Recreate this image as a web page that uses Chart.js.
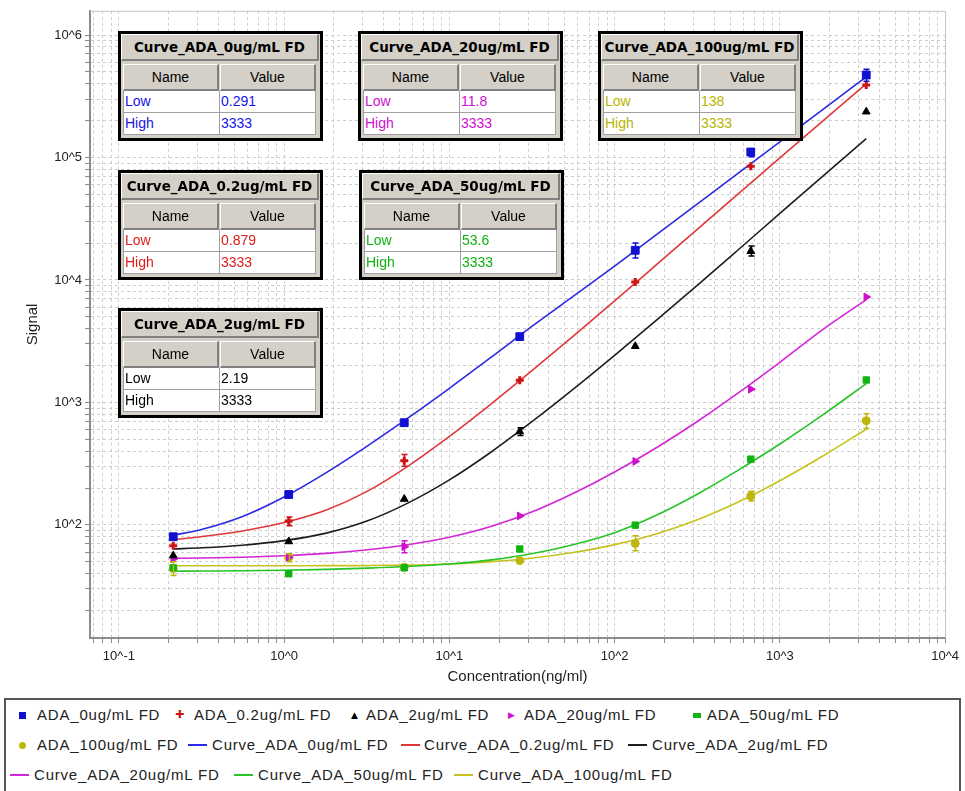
<!DOCTYPE html>
<html>
<head>
<meta charset="utf-8">
<script src="https://cdn.jsdelivr.net/npm/chart.js@4.4.1/dist/chart.umd.min.js"></script>
<style>
  body { margin: 0; background: #fff; }
  #wrap { position: relative; width: 965px; height: 791px; overflow: hidden; font-family: "Liberation Sans", Arial, sans-serif; }
  #plot { position: absolute; left: 0; top: 0; }
  .tbl { position: absolute; width: 205px; height: 110px; box-sizing: border-box; border: 3px solid #000; background: #d4d0c8; }
  .tbl div { position: absolute; box-sizing: border-box; white-space: nowrap; overflow: hidden; }
  .tbl .ttl { left: 0; top: 0; width: 198px; height: 27px; border-top: 1px solid #fff; border-left: 1px solid #fff; border-right: 2px solid #808080; border-bottom: 2px solid #808080; font: bold 13.5px "DejaVu Sans", sans-serif; text-align: center; line-height: 24px; color: #000; }
  .tbl .hd { top: 30px; height: 27px; border-top: 1px solid #fff; border-left: 1px solid #fff; border-right: 2px solid #808080; border-bottom: 2px solid #808080; font: 14px "Liberation Sans", sans-serif; text-align: center; line-height: 24px; color: #000; }
  .tbl .cell { height: 22px; background: #fff; border-right: 1px solid #a0a0a0; border-bottom: 1px solid #a0a0a0; font: 14px "Liberation Sans", sans-serif; line-height: 21px; padding-left: 1px; }
  #legend { position: absolute; left: 4px; top: 698px; width: 957px; height: 110px; box-sizing: border-box; border: 2px solid #555; background: #fff; }
  .lg { position: absolute; font: 15px "Liberation Sans", sans-serif; letter-spacing: 0.8px; color: #222; line-height: 18px; white-space: nowrap; }
  .mk { position: absolute; }
</style>
</head>
<body>
<div id="wrap">
  <canvas id="plot" width="965" height="791"></canvas>
</div>
<script>
// Dilution series of the standard (ng/ml)
const concentrations = [0.2133, 1.0667, 5.333, 26.67, 133.3, 666.7, 3333];

// Measured signal per drug-tolerance level
const signal_0 = [80, 177, 683, 3445, 17470, 110900, 471500];
const signal_02 = [67.6, 107.7, 334, 1517, 9620, 84700, 391000];
const signal_2 = [56.1, 73.2, 162.5, 578, 2875, 17150, 236400];
const signal_20 = [52.7, 54.3, 66.4, 118.3, 330, 1282, 7265];
const signal_50 = [44.6, 39.9, 44.6, 63.5, 99.5, 344, 1524];
const signal_100 = [44.0, 54.3, 45.1, 51.1, 70.5, 171.8, 709];

// Replicate spread [low, high] where it is visible
const spread_0 = [null, null, null, null, [15140, 20000], [101500, 117900], [419000, 524800]];
const spread_02 = [null, [98.2, 116.1], [300.7, 376], null, null, null, null];
const spread_2 = [null, null, null, [536, 622], null, [15700, 18920], null];
const spread_20 = [null, null, [59.3, 74.2], null, null, null, null];
const spread_50 = [null, null, null, null, null, null, null];
const spread_100 = [[38.6, 50.1], [50.1, 58.2], null, null, [61.5, 81.5], [156.4, 188.6], [611, 809]];

// Fitted curves sampled along concentration
const curveConc = [0.2133, 0.32, 0.56, 1, 1.8, 3.2, 5.6, 10, 18, 32, 56, 100, 180, 320, 560, 1000, 1800, 3333];
const curve_0 = [82.2, 92.1, 117.2, 169.0, 267.4, 441.8, 743.3, 1304, 2351, 4230, 7337, 12960, 23550, 42150, 74470, 134050, 243500, 455900];
const curve_02 = [75.57, 80.25, 89.25, 104.4, 132.3, 188.6, 300.8, 527.2, 977.9, 1841, 3465, 6745, 13380, 26200, 50420, 99450, 196600, 398600];
const curve_2 = [63.56, 64.99, 68.2, 74.32, 85.64, 107.9, 150.5, 232.9, 395.6, 705.5, 1279, 2426, 4715, 9161, 17640, 34900, 69500, 142300];
const curve_20 = [53.32, 53.67, 54.48, 56.03, 58.48, 62.66, 68.91, 79.26, 97.32, 128.5, 180.5, 270.6, 428.2, 704.7, 1195, 2127, 3894, 6912];
const curve_50 = [41.84, 42.0, 42.23, 42.63, 43.35, 44.33, 45.66, 47.86, 51.75, 58.32, 68.85, 86.3, 120.3, 179.7, 280.1, 457.7, 783.1, 1426];
const curve_100 = [46.35, 46.35, 46.35, 46.39, 46.44, 46.52, 46.88, 47.98, 50.14, 53.72, 59.52, 68.98, 84.71, 110.6, 153.6, 229.4, 361.6, 603.2];

// Fit range per curve
const fitLow = ['0.291', '0.879', '2.19', '11.8', '53.6', '138'];
const fitHigh = ['3333', '3333', '3333', '3333', '3333', '3333'];

const levels = ['0ug', '0.2ug', '2ug', '20ug', '50ug', '100ug'];
const pointNames = levels.map(l => 'ADA_' + l + '/mL FD');
const curveNames = levels.map(l => 'Curve_ADA_' + l + '/mL FD');

const series = [
  { pts: signal_0,   err: spread_0,   fit: curve_0,   line: '#2a2ae6', mark: '#1010d0', text: '#1515e8', style: 'rect',     r: 5.5, rot: 0,  bw: 1 },
  { pts: signal_02,  err: spread_02,  fit: curve_02,  line: '#e23838', mark: '#cc1414', text: '#e01a1a', style: 'cross',    r: 4,   rot: 0,  bw: 3 },
  { pts: signal_2,   err: spread_2,   fit: curve_2,   line: '#1e1e1e', mark: '#000000', text: '#000000', style: 'triangle', r: 4.5, rot: 0,  bw: 1 },
  { pts: signal_20,  err: spread_20,  fit: curve_20,  line: '#d426d4', mark: '#cc10cc', text: '#d010d0', style: 'triangle', r: 4.5, rot: 90, bw: 1 },
  { pts: signal_50,  err: spread_50,  fit: curve_50,  line: '#26c426', mark: '#10b410', text: '#10b010', style: 'rect',     r: 4.5, rot: 0,  bw: 1 },
  { pts: signal_100, err: spread_100, fit: curve_100, line: '#c6c21c', mark: '#bdb70c', text: '#b8b400', style: 'circle',   r: 4,   rot: 0,  bw: 1 }
];

const pointSets = series.map((s, i) => ({
  label: pointNames[i],
  data: concentrations.map((x, k) => ({ x, y: s.pts[k] })),
  showLine: false,
  pointStyle: s.style,
  pointRadius: s.r,
  pointRotation: s.rot,
  pointBackgroundColor: s.mark,
  pointBorderColor: s.mark,
  pointBorderWidth: s.bw
}));
const curveSets = series.map((s, i) => ({
  label: curveNames[i],
  data: curveConc.map((x, k) => ({ x, y: s.fit[k] })),
  showLine: true,
  borderColor: s.line,
  borderWidth: 1.6,
  pointRadius: 0,
  cubicInterpolationMode: 'monotone'
}));

function logTicks(min, max) {
  const out = [];
  for (let e = Math.floor(Math.log10(min)); e <= Math.ceil(Math.log10(max)); e++) {
    for (let m = 1; m <= 9; m++) {
      const v = m * Math.pow(10, e);
      if (v >= min * 0.9999 && v <= max * 1.0001) out.push({ value: v });
    }
  }
  return out;
}
function decadeLabel(v) {
  const e = Math.log10(v);
  return Math.abs(e - Math.round(e)) < 1e-9 ? '10^' + Math.round(e) : '';
}

const errorBars = {
  id: 'errorBars',
  afterDatasetsDraw(chart) {
    const { ctx, chartArea, scales } = chart;
    ctx.save();
    ctx.beginPath();
    ctx.rect(chartArea.left, chartArea.top, chartArea.right - chartArea.left, chartArea.bottom - chartArea.top);
    ctx.clip();
    series.forEach(s => {
      s.err.forEach((e, k) => {
        if (!e) return;
        const px = Math.round(scales.x.getPixelForValue(concentrations[k])) + 0.5;
        const y1 = scales.y.getPixelForValue(e[0]);
        const y2 = scales.y.getPixelForValue(e[1]);
        ctx.strokeStyle = s.mark;
        ctx.lineWidth = 1.5;
        ctx.beginPath();
        ctx.moveTo(px, y1); ctx.lineTo(px, y2);
        ctx.moveTo(px - 3, y1); ctx.lineTo(px + 3, y1);
        ctx.moveTo(px - 3, y2); ctx.lineTo(px + 3, y2);
        ctx.stroke();
      });
    });
    ctx.restore();
  }
};

const frame = {
  id: 'frame',
  beforeDatasetsDraw(chart) {
    const { ctx, chartArea: a } = chart;
    ctx.save();
    ctx.strokeStyle = '#c4c4c4';
    ctx.lineWidth = 1;
    ctx.beginPath();
    ctx.moveTo(a.left, a.top + 0.5); ctx.lineTo(a.right + 0.5, a.top + 0.5); ctx.lineTo(a.right + 0.5, a.bottom);
    ctx.stroke();
    ctx.restore();
  }
};

const tickFont = { family: 'Liberation Sans', size: 13 };

new Chart(document.getElementById('plot'), {
  type: 'scatter',
  data: { datasets: pointSets.concat(curveSets) },
  options: {
    responsive: false,
    animation: false,
    devicePixelRatio: 1,
    layout: { padding: { left: 0, right: 16, top: 6, bottom: 101 } },
    plugins: { legend: { display: false }, tooltip: { enabled: false } },
    scales: {
      x: {
        type: 'logarithmic',
        min: 0.06687,
        max: 10000,
        afterBuildTicks: s => { s.ticks = logTicks(s.min, s.max); },
        afterFit: s => { s.height = 52; },
        ticks: { autoSkip: false, maxRotation: 0, minRotation: 0, font: tickFont, color: '#222', padding: 6, callback: v => decadeLabel(v) },
        grid: { color: '#cdcdcd', lineWidth: 1, tickLength: 5, tickColor: '#8c8c8c', tickWidth: 1 },
        border: { color: '#8c8c8c', width: 2, dash: [3, 3] },
        title: { display: true, text: 'Concentration(ng/ml)', font: { family: 'Liberation Sans', size: 15 }, color: '#222', padding: { top: 0, bottom: 4 } }
      },
      y: {
        type: 'logarithmic',
        min: 11.92,
        max: 1.577e6,
        afterBuildTicks: s => { s.ticks = logTicks(s.min, s.max); },
        afterFit: s => { s.width = 90; },
        ticks: { autoSkip: false, font: tickFont, color: '#222', padding: 3, callback: v => decadeLabel(v) },
        grid: { color: '#cdcdcd', lineWidth: 1, tickLength: 5, tickColor: '#8c8c8c', tickWidth: 1 },
        border: { color: '#8c8c8c', width: 2, dash: [3, 3] },
        title: { display: true, text: 'Signal', font: { family: 'Liberation Sans', size: 15 }, color: '#222', padding: { top: 24, bottom: 0 } }
      }
    }
  },
  plugins: [frame, errorBars]
});

// Fit-range tables
const wrap = document.getElementById('wrap');
const tablePos = [[118, 31], [118, 170], [118, 308], [358, 31], [359, 170], [598, 31]];
series.forEach((s, i) => {
  const t = document.createElement('div');
  t.className = 'tbl';
  t.style.left = tablePos[i][0] + 'px';
  t.style.top = tablePos[i][1] + 'px';
  const c = s.text;
  t.innerHTML =
    '<div class="ttl">' + curveNames[i] + '</div>' +
    '<div class="hd" style="left:2px;width:96px">Name</div>' +
    '<div class="hd" style="left:99px;width:96px">Value</div>' +
    '<div class="cell" style="left:2px;top:57px;width:97px;border-left:1px solid #a0a0a0;color:' + c + '">Low</div>' +
    '<div class="cell" style="left:99px;top:57px;width:96px;color:' + c + '">' + fitLow[i] + '</div>' +
    '<div class="cell" style="left:2px;top:79px;width:97px;border-left:1px solid #a0a0a0;color:' + c + '">High</div>' +
    '<div class="cell" style="left:99px;top:79px;width:96px;color:' + c + '">' + fitHigh[i] + '</div>';
  wrap.appendChild(t);
});

// Legend
const legend = document.createElement('div');
legend.id = 'legend';
wrap.appendChild(legend);
const lx = 4, ly = 698;
function addText(x, yc, str) {
  const d = document.createElement('div');
  d.className = 'lg';
  d.style.left = (x - lx - 2) + 'px';
  d.style.top = (yc - ly - 2 - 9) + 'px';
  d.textContent = str;
  legend.appendChild(d);
}
function addBox(x, yc, w, h, color, round) {
  const d = document.createElement('div');
  d.className = 'mk';
  d.style.left = (x - lx - 2) + 'px';
  d.style.top = (yc - ly - 2 - h / 2) + 'px';
  d.style.width = w + 'px';
  d.style.height = h + 'px';
  d.style.background = color;
  if (round) d.style.borderRadius = '50%';
  legend.appendChild(d);
}
function addGlyph(x, yc, ch, color, size) {
  const d = document.createElement('div');
  d.className = 'mk';
  d.style.left = (x - lx - 2) + 'px';
  d.style.top = (yc - ly - 2 - size * 0.6) + 'px';
  d.style.font = size + 'px "DejaVu Sans"';
  d.style.lineHeight = (size * 1.2) + 'px';
  d.style.color = color;
  d.textContent = ch;
  legend.appendChild(d);
}
const r1 = 715, r2 = 745, r3 = 775;
addBox(19, r1, 7, 7, series[0].mark);            addText(37, r1, pointNames[0]);
addGlyph(175, r1, '\u271A', series[1].mark, 11);  addText(194, r1, pointNames[1]);
addGlyph(351, r1, '\u25B2', series[2].mark, 9);   addText(366, r1, pointNames[2]);
addGlyph(508, r1, '\u25B6', series[3].mark, 9);   addText(524, r1, pointNames[3]);
addBox(693, r1, 8, 5, series[4].mark);           addText(707, r1, pointNames[4]);
addBox(19, r2, 7, 7, series[5].mark, true);      addText(37, r2, pointNames[5]);
addBox(188, r2, 19, 2, series[0].line);          addText(212, r2, curveNames[0]);
addBox(401, r2, 19, 2, series[1].line);          addText(424, r2, curveNames[1]);
addBox(628, r2, 19, 2, series[2].line);          addText(652, r2, curveNames[2]);
addBox(10, r3, 19, 2, series[3].line);           addText(34, r3, curveNames[3]);
addBox(234, r3, 19, 2, series[4].line);          addText(258, r3, curveNames[4]);
addBox(454, r3, 19, 2, series[5].line);          addText(478, r3, curveNames[5]);
</script>
</body>
</html>
